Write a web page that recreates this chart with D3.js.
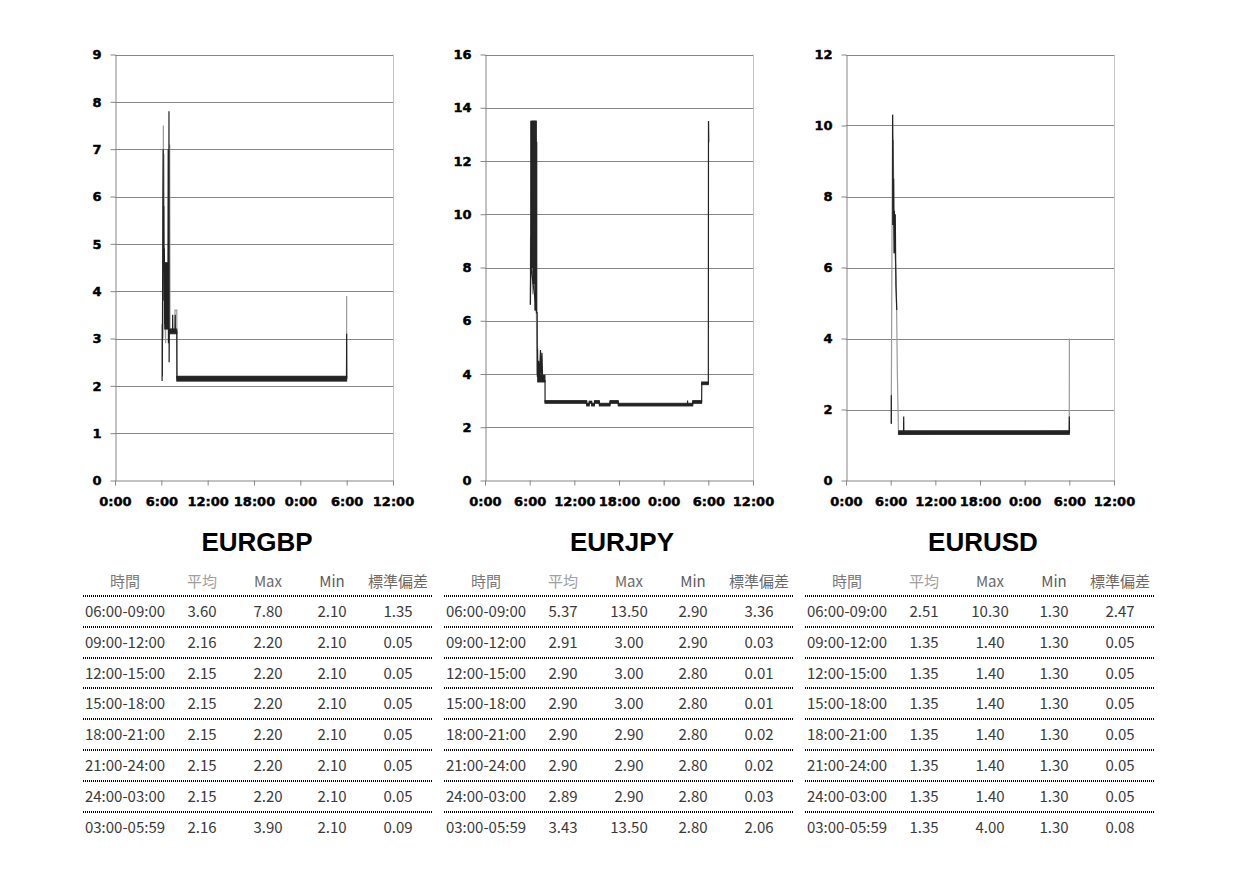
<!DOCTYPE html>
<html>
<head>
<meta charset="utf-8">
<script src="https://cdn.jsdelivr.net/npm/d3@7"></script>
<style>
body { margin: 0; background: #fff; }
svg { display: block; }
</style>
</head>
<body>
<svg width="1249" height="883"></svg>
<script>
// time in hours from 0:00 of day 1 (36h span), value in pips
var xTickHours = [0, 6, 12, 18, 24, 30, 36];

var gbpLine = [[6.10,2.10],[6.11,3.30],[6.13,2.20],[6.20,6.00],[6.24,7.00],[6.27,4.40],[6.31,5.80],[6.35,3.80],[6.39,4.90],[6.44,3.30],[6.52,4.60],[6.60,3.20],[6.70,4.60],[6.80,3.20],[6.86,4.50],[6.89,7.00],[6.92,2.90],[6.96,4.50],[6.99,7.80],[7.01,2.50],[7.04,3.20],[7.10,3.15],[7.45,3.15],[7.47,3.50],[7.49,3.15],[7.78,3.15],[7.80,3.50],[7.82,3.15],[8.00,3.15],[8.02,2.15],[29.98,2.15],[30.00,3.10],[30.02,2.15]];
var gbpGrey = [[6.22,3.00],[6.26,7.50],[6.29,4.80],[6.33,6.90],[6.40,4.20],[6.55,2.90],[6.60,4.40],[7.05,3.10],[7.08,7.10],[7.12,3.20],[7.75,3.20],[7.77,3.60],[8.00,3.60],[8.02,2.20],[29.98,2.20],[30.00,3.90]];
var gbpBand = [[6.44,6.90,3.20,4.60],[7.10,8.00,3.10,3.20],[8.00,30.00,2.10,2.20]];

var jpyLine = [[6.10,6.60],[6.13,7.80],[6.16,9.00],[6.18,13.50],[6.20,8.00],[6.94,6.30],[7.01,6.30],[7.03,3.90],[7.06,4.95],[7.10,3.90],[7.20,4.50],[7.30,3.80],[7.45,4.90],[7.52,3.75],[7.65,4.80],[7.75,3.75],[8.06,3.75],[8.07,2.95],[13.66,2.95],[13.67,2.85],[14.00,2.85],[14.01,2.94],[14.33,2.94],[14.34,2.85],[14.70,2.85],[14.71,2.95],[15.36,2.95],[15.37,2.85],[16.79,2.85],[16.80,2.95],[17.90,2.95],[17.91,2.85],[27.20,2.85],[27.21,3.00],[27.23,2.85],[27.90,2.85],[27.91,2.95],[29.10,2.95],[29.12,3.65],[30.00,3.65],[30.02,13.50],[30.04,12.70]];
var jpyGrey = [[6.08,6.60],[6.12,9.20],[6.40,7.00],[6.50,8.60],[6.90,6.40],[7.00,4.00],null,[30.03,13.50],[30.06,12.70]];
var jpyBand = [[6.18,6.45,8.00,13.50],[6.45,6.70,7.40,13.50],[6.70,6.90,6.40,13.50],[6.90,6.96,6.30,12.70],[7.08,8.06,3.70,3.95],[8.06,13.66,2.90,3.00],[13.66,14.00,2.80,2.90],[14.00,14.33,2.90,2.98],[14.33,14.70,2.80,2.90],[14.70,15.36,2.90,3.00],[15.36,16.79,2.80,2.90],[16.79,17.90,2.90,3.00],[17.90,27.90,2.80,2.90],[27.90,29.10,2.90,3.00],[29.10,30.00,3.60,3.70]];

var usdLine = [[6.09,1.60],[6.09,2.40],null,[6.26,10.30],[6.28,7.20],[6.31,9.60],[6.35,7.40],[6.40,8.50],[6.45,6.40],[6.50,7.60],[6.56,6.40],[6.62,7.50],[6.70,5.50],[6.82,4.80],null,[7.08,1.35],[7.73,1.35],[7.75,1.80],[7.77,1.35],[29.98,1.35],[30.00,1.80],[30.02,1.35]];
var usdGrey = [[6.07,1.60],[6.10,2.80],[6.20,8.00],[6.26,10.30],[6.38,8.80],[6.45,7.00],[6.75,5.70],[6.90,3.00],[7.05,1.30],[29.99,1.40],[30.01,4.00]];
var usdBand = [[7.08,30.00,1.30,1.40]];

// stats tables
var periods = ["06:00-09:00","09:00-12:00","12:00-15:00","15:00-18:00","18:00-21:00","21:00-24:00","24:00-03:00","03:00-05:59"];
var headers = ["時間","平均","Max","Min","標準偏差"];

var gbpAvg = [3.60,2.16,2.15,2.15,2.15,2.15,2.15,2.16];
var gbpMax = [7.80,2.20,2.20,2.20,2.20,2.20,2.20,3.90];
var gbpMin = [2.10,2.10,2.10,2.10,2.10,2.10,2.10,2.10];
var gbpStd = [1.35,0.05,0.05,0.05,0.05,0.05,0.05,0.09];

var jpyAvg = [5.37,2.91,2.90,2.90,2.90,2.90,2.89,3.43];
var jpyMax = [13.50,3.00,3.00,3.00,2.90,2.90,2.90,13.50];
var jpyMin = [2.90,2.90,2.80,2.80,2.80,2.80,2.80,2.80];
var jpyStd = [3.36,0.03,0.01,0.01,0.02,0.02,0.03,2.06];

var usdAvg = [2.51,1.35,1.35,1.35,1.35,1.35,1.35,1.35];
var usdMax = [10.30,1.40,1.40,1.40,1.40,1.40,1.40,4.00];
var usdMin = [1.30,1.30,1.30,1.30,1.30,1.30,1.30,1.30];
var usdStd = [2.47,0.05,0.05,0.05,0.05,0.05,0.05,0.08];


var svg = d3.select('svg');

var charts = [
    {name: "EURGBP", yMax: 9,  yStep: 1, line: gbpLine, grey: gbpGrey, band: gbpBand,
     cols: [gbpAvg, gbpMax, gbpMin, gbpStd], left: 115, right: 393, tableLeft: 83},
    {name: "EURJPY", yMax: 16, yStep: 2, line: jpyLine, grey: jpyGrey, band: jpyBand,
     cols: [jpyAvg, jpyMax, jpyMin, jpyStd], left: 485, right: 753, tableLeft: 444},
    {name: "EURUSD", yMax: 12, yStep: 2, line: usdLine, grey: usdGrey, band: usdBand,
     cols: [usdAvg, usdMax, usdMin, usdStd], left: 846, right: 1114, tableLeft: 805}
];

var plotTop = 54.5, plotBottom = 480.5;
var gridColor = "#868686";

charts.forEach(function(c) {

    var x = d3.scaleLinear().domain([0, 36]).range([c.left, c.right]);
    var y = d3.scaleLinear().domain([0, c.yMax]).range([plotBottom, plotTop]);
    var yTicks = d3.range(0, c.yMax + 0.001, c.yStep);

    var g = svg.append("g");

    ///////////////////// GRID ////////////////////
    g.append("g").selectAll("line")
        .data(yTicks.slice(1))
        .join("line")
        .attr("x1", c.left).attr("x2", c.right)
        .attr("y1", function(d) { return Math.round(y(d)) + 0.5; })
        .attr("y2", function(d) { return Math.round(y(d)) + 0.5; })
        .attr("stroke", gridColor);

    g.append("line")   // light border on the right
        .attr("x1", c.right + 0.5).attr("x2", c.right + 0.5)
        .attr("y1", plotTop).attr("y2", plotBottom)
        .attr("stroke", "#c4c4c4");

    ///////////////////// SERIES ////////////////////
    var path = d3.line()
        .defined(function(d) { return d !== null; })
        .x(function(d) { return x(d[0]); })
        .y(function(d) { return y(d[1]); });

    g.append("path")
        .attr("d", path(c.grey))
        .attr("fill", "none")
        .attr("stroke", "#9a9a9a")
        .attr("stroke-width", 1.2);

    g.append("g").selectAll("rect")
        .data(c.band)
        .join("rect")
        .attr("x", function(d) { return x(d[0]); })
        .attr("width", function(d) { return x(d[1]) - x(d[0]); })
        .attr("y", function(d) { return y(d[3]); })
        .attr("height", function(d) { return y(d[2]) - y(d[3]); })
        .attr("fill", "#262626")
        .attr("stroke", "#262626")
        .attr("stroke-width", 1);

    g.append("path")
        .attr("d", path(c.line))
        .attr("fill", "none")
        .attr("stroke", "#222")
        .attr("stroke-width", 1.2);

    ///////////////////// AXES ////////////////////
    var yAxis = d3.axisLeft(y)
        .tickValues(yTicks)
        .tickSize(5)
        .tickSizeOuter(0)
        .tickPadding(9)
        .tickFormat(d3.format("d"));

    var yg = g.append("g")
        .attr("transform", "translate(" + (c.left + 0.5) + ",0)")
        .call(yAxis);

    var xAxis = d3.axisBottom(x)
        .tickValues(xTickHours)
        .tickSize(5)
        .tickSizeOuter(0)
        .tickPadding(11)
        .tickFormat(function(h) { return (h % 24) + ":00"; });

    var xg = g.append("g")
        .attr("transform", "translate(0," + plotBottom + ")")
        .call(xAxis);

    [yg, xg].forEach(function(a) {
        a.selectAll("path, line").attr("stroke", gridColor);
        a.selectAll("text")
            .attr("fill", "#000")
            .attr("stroke", "#000")
            .attr("stroke-width", 0.45)
            .style("font-family", "DejaVu Sans")
            .style("font-weight", "bold")
            .style("font-size", "13px");
    });

    ///////////////////// TITLE ////////////////////
    svg.append("text")
        .attr("x", (c.left + c.right) / 2 + 3)
        .attr("y", 551)
        .attr("text-anchor", "middle")
        .style("font-family", "Liberation Sans, Arial, sans-serif")
        .style("font-weight", "bold")
        .style("font-size", "26px")
        .text(c.name);

    ///////////////////// TABLE ////////////////////
    var colX = [42, 119, 185, 249, 315].map(function(o) { return c.tableLeft + o; });
    var headColors = ["#7a7a7a", "#a0a0a0", "#6a6a6a", "#5a5a5a", "#6a6a6a"];
    var t = svg.append("g")
        .style("font-family", "Noto Sans CJK JP, sans-serif")
        .style("font-size", "15px");

    t.selectAll("text.head")
        .data(headers)
        .join("text")
        .attr("class", "head")
        .attr("x", function(d, i) { return colX[i]; })
        .attr("y", 587)
        .attr("text-anchor", "middle")
        .attr("fill", function(d, i) { return headColors[i]; })
        .text(function(d) { return d; });

    var rowH = 30.8;
    var fmt = d3.format(".2f");

    t.selectAll("line")
        .data(periods)
        .join("line")
        .attr("x1", c.tableLeft).attr("x2", c.tableLeft + 349)
        .attr("y1", function(d, i) { return Math.round(596 + i * rowH); })
        .attr("y2", function(d, i) { return Math.round(596 + i * rowH); })
        .attr("stroke", "#000")
        .attr("stroke-width", 2)
        .attr("stroke-dasharray", "1,1")
        .attr("shape-rendering", "crispEdges");

    periods.forEach(function(p, i) {
        var cells = [p].concat(c.cols.map(function(col) { return fmt(col[i]); }));
        t.selectAll(null)
            .data(cells)
            .join("text")
            .attr("x", function(d, j) { return colX[j]; })
            .attr("y", 617 + i * rowH)
            .attr("text-anchor", "middle")
            .attr("fill", "#3a3a3a")
            .text(function(d) { return d; });
    });
});
</script>
</body>
</html>
